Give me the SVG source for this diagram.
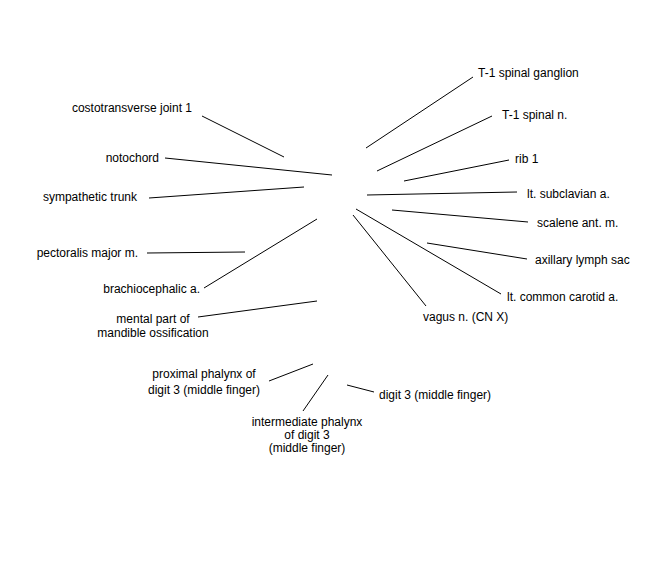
<svg xmlns="http://www.w3.org/2000/svg" width="650" height="580" viewBox="0 0 650 580">
<style>
text { font-family: "Liberation Sans", Arial, sans-serif; font-size: 12px; fill: #000; }
.l { stroke: #000; stroke-width: 1; fill: none; }
.m { text-anchor: middle; }
.e { text-anchor: end; }
</style>
<rect width="650" height="580" fill="#fff"/>
<g id="connectors">
<line class="l" x1="202" y1="116" x2="284" y2="157"/>
<line class="l" x1="165" y1="158" x2="332" y2="175"/>
<line class="l" x1="149" y1="198" x2="304" y2="187"/>
<line class="l" x1="473" y1="77" x2="366" y2="148"/>
<line class="l" x1="492" y1="116" x2="377" y2="171"/>
<line class="l" x1="509" y1="160" x2="404" y2="181"/>
<line class="l" x1="517" y1="192" x2="367" y2="195"/>
<line class="l" x1="147" y1="253" x2="245" y2="252"/>
<line class="l" x1="204" y1="288" x2="317" y2="219"/>
<line class="l" x1="198" y1="317" x2="317" y2="301"/>
<line class="l" x1="528" y1="222" x2="392" y2="210"/>
<line class="l" x1="527" y1="259" x2="427" y2="243"/>
<line class="l" x1="501" y1="294" x2="356" y2="209"/>
<line class="l" x1="426" y1="306" x2="353" y2="215"/>
<line class="l" x1="269" y1="381" x2="313" y2="364"/>
<line class="l" x1="303" y1="411" x2="328" y2="375"/>
<line class="l" x1="374" y1="392" x2="347" y2="385"/>
</g>
<g id="costotransverse-joint-1"><text class="e" x="192" y="112">costotransverse joint 1</text></g>
<g id="notochord"><text class="e" x="159" y="162">notochord</text></g>
<g id="sympathetic-trunk"><text class="e" x="137" y="201">sympathetic trunk</text></g>
<g id="t1-spinal-ganglion"><text x="478" y="77">T-1 spinal ganglion</text></g>
<g id="t1-spinal-n"><text x="502" y="119">T-1 spinal n.</text></g>
<g id="rib-1"><text x="515" y="163">rib 1</text></g>
<g id="lt-subclavian-a"><text x="527" y="198">lt. subclavian a.</text></g>
<g id="pectoralis-major-m"><text class="e" x="138" y="257">pectoralis major m.</text></g>
<g id="brachiocephalic-a"><text class="e" x="200" y="293">brachiocephalic a.</text></g>
<g id="mental-part"><text class="m" x="153" y="323">mental part of</text><text class="m" x="153" y="337">mandible ossification</text></g>
<g id="scalene-ant-m"><text x="537" y="227">scalene ant. m.</text></g>
<g id="axillary-lymph-sac"><text x="535" y="264">axillary lymph sac</text></g>
<g id="lt-common-carotid-a"><text x="507" y="301">lt. common carotid a.</text></g>
<g id="vagus-n"><text x="423" y="321">vagus n. (CN X)</text></g>
<g id="proximal-phalynx"><text class="m" x="204" y="378">proximal phalynx of</text><text class="m" x="204" y="394">digit 3 (middle finger)</text></g>
<g id="intermediate-phalynx"><text class="m" x="307" y="426">intermediate phalynx</text><text class="m" x="307" y="439">of digit 3</text><text class="m" x="307" y="452">(middle finger)</text></g>
<g id="digit-3"><text x="379" y="399">digit 3 (middle finger)</text></g>
</svg>
